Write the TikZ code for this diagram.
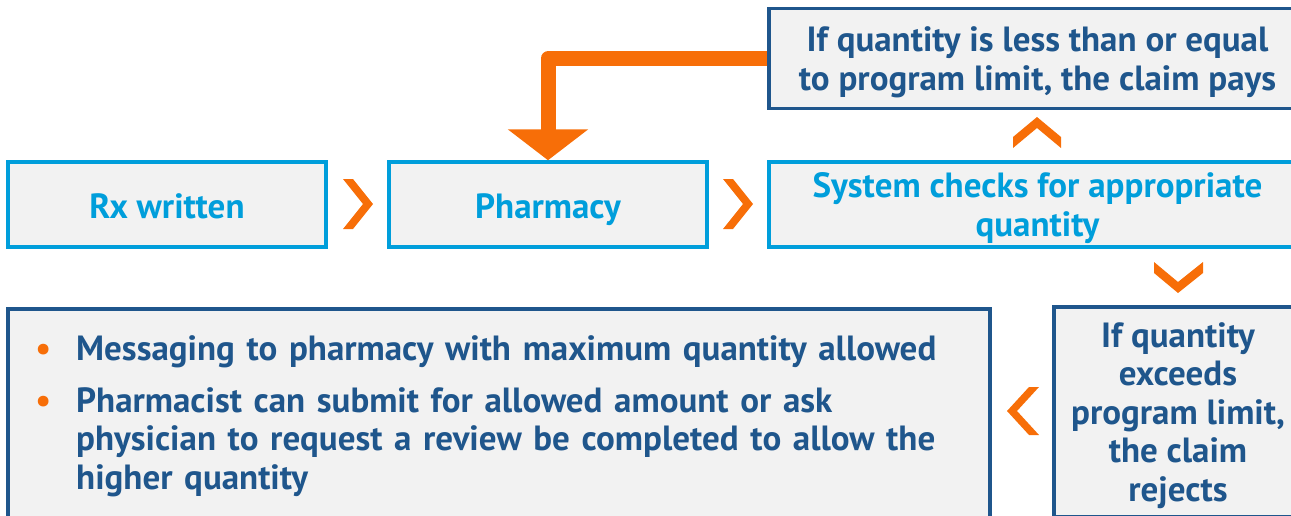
\documentclass[tikz,border=0pt]{standalone}
\usepackage{fontspec}
\setmainfont{PT Sans}
\usetikzlibrary{arrows.meta}
\definecolor{skyblue}{RGB}{0,158,219}
\definecolor{navyblue}{RGB}{31,86,140}
\definecolor{rxorange}{RGB}{247,110,8}
\definecolor{boxgray}{RGB}{242,242,242}
\tikzset{
  stepbox/.style={draw=skyblue, line width=3.5pt, fill=boxgray, text=skyblue,
    font=\fontsize{35}{38.5}\selectfont\bfseries, align=center, inner sep=0pt},
  resultbox/.style={stepbox, draw=navyblue, text=navyblue},
  chev/.style={fill=rxorange},
  loopback/.style={draw=rxorange, line width=15pt, line join=round,
    -{Triangle[width=79pt,length=31pt]}},
}
\begin{document}
\begin{tikzpicture}[x=1pt, y=-1pt]
    \clip (0, 0) rectangle (1291, 515);
    % top row
    \node[stepbox, minimum width=318, minimum height=85, text height=31pt, text depth=4pt] (rx) at (167, 204.5) {Rx written};
    \node[stepbox, minimum width=318, minimum height=85, text height=31pt, text depth=4pt] (pharm) at (548, 204.5) {Pharmacy};
    \node[stepbox, minimum width=537, minimum height=85, text depth=-2pt] (check) at (1037.5, 204.5) {System checks for appropriate\\quantity};
    \node[resultbox, minimum width=537, minimum height=100, text depth=-2pt] (pays) at (1037.5, 58.5) {If quantity is less than or equal\\to program limit, the claim pays};
    % bottom row
    \node[resultbox, minimum width=248, minimum height=210, text depth=0pt] (rejects) at (1178, 412) {If quantity\\exceeds\\program limit,\\the claim\\rejects};
    \node[resultbox, minimum width=982, minimum height=223, anchor=north west] (msg) at (6, 307) {};
    \node[anchor=north west, text=navyblue, font=\fontsize{35}{38.5}\selectfont\bfseries,
      text width=900pt, align=left, inner sep=0pt] (msglist) at (76, 335) {%
      \leavevmode\llap{\textcolor{rxorange}{\textbullet}\hspace{25pt}}Messaging to pharmacy with maximum quantity allowed\par\vspace{13.5pt}
      \leavevmode\llap{\textcolor{rxorange}{\textbullet}\hspace{25pt}}Pharmacist can submit for allowed amount or ask\\
      physician to request a review be completed to allow the\\
      higher quantity};

    % chevrons
    \fill[chev] (343, 179) -- ++(10, 0) -- ++(20, 25) -- ++(-20, 25) -- ++(-10, 0) -- ++(20, -25) -- cycle;
    \fill[chev] (723, 179) -- ++(10, 0) -- ++(20, 25) -- ++(-20, 25) -- ++(-10, 0) -- ++(20, -25) -- cycle;
    \fill[chev] (1013, 137) -- (1037, 117) -- (1061, 137) -- (1061, 148) -- (1037, 128) -- (1013, 148) -- cycle;
    \fill[chev] (1154, 262) -- (1178, 282) -- (1203, 262) -- (1203, 273) -- (1178, 293) -- (1154, 273) -- cycle;
    \fill[chev] (1039, 387) -- (1029, 387) -- (1007, 411) -- (1029, 435) -- (1039, 435) -- (1017, 411) -- cycle;

    % claim pays, back to the pharmacy
    \draw[loopback] (pays.west) -| (pharm.north);
\end{tikzpicture}
\end{document}
